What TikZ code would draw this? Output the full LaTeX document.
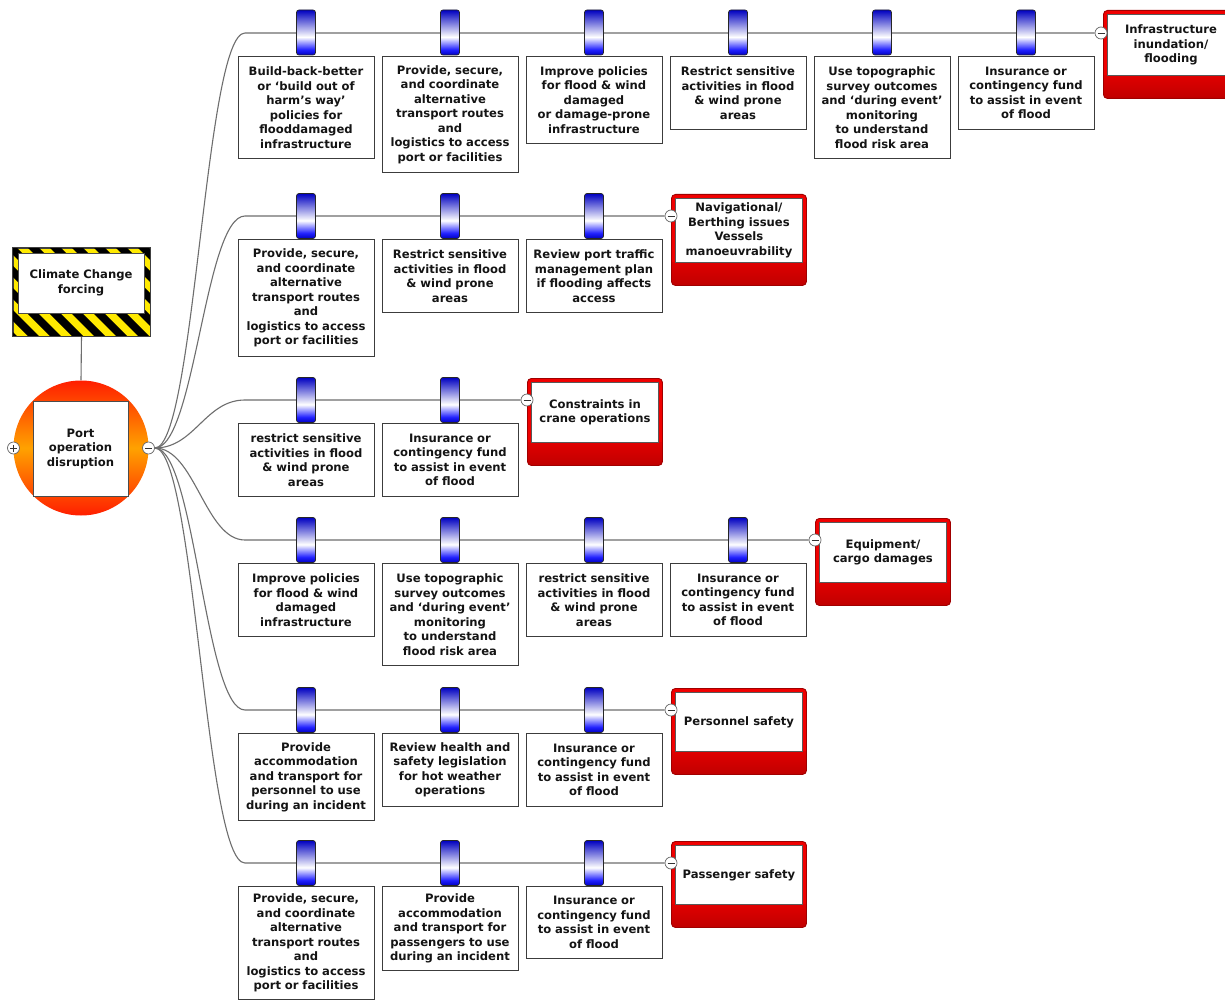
\documentclass[tikz,border=0pt]{standalone}
\usepackage{fontspec}
\setmainfont{DejaVu Sans}
\usetikzlibrary{calc,backgrounds}

\definecolor{linkgray}{HTML}{6E6E6E}
\definecolor{boxgray}{HTML}{3C3C3C}
\definecolor{inkblack}{HTML}{141414}
\definecolor{bluedark}{HTML}{0000C0}
\definecolor{bluemain}{HTML}{2020FF}
\definecolor{consred}{HTML}{F00000}
\definecolor{consdark}{HTML}{C00000}
\definecolor{conslight}{HTML}{FFD8D8}
\definecolor{consborder}{HTML}{A00000}
\definecolor{portred}{HTML}{FF1E00}
\definecolor{portorange}{HTML}{FFA200}
\definecolor{hazardyellow}{HTML}{FFEA00}

% barrier bar: blue at both ends, white band in the lower middle
\pgfdeclareverticalshading{barrierblue}{100bp}{color(0bp)=(bluedark); color(25bp)=(bluedark); color(31bp)=(bluemain); color(45bp)=(white); color(75bp)=(bluedark); color(100bp)=(bluedark)}
% lower strip of the consequence boxes
\pgfdeclareverticalshading{consbottom}{100bp}{color(0bp)=(consdark); color(25bp)=(consdark); color(45bp)=(consred); color(62bp)=(consred); color(75bp)=(conslight); color(100bp)=(conslight)}

\newcommand\boxfont{\fontsize{11.6pt}{14.5pt}\selectfont\bfseries}

\tikzset{
  link/.style={draw=linkgray, line width=1.1pt},
  mbox/.style={draw=boxgray, line width=0.9pt, fill=white, text width=128pt,
    inner xsep=4pt, inner ysep=2pt, align=center, anchor=north,
    font=\boxfont, text=inkblack},
  barrier/.style={draw=black!85, line width=0.7pt, shading=barrierblue,
    minimum width=19pt, minimum height=45pt, rounded corners=2.5pt, inner sep=0pt},
  cons/.style={draw=consborder, line width=0.9pt, fill=consred, rounded corners=4pt,
    minimum width=135pt, inner sep=0pt, anchor=north west,
    path picture={
      \shade[shading=consbottom, sharp corners]
        ([yshift=23pt]path picture bounding box.south west) rectangle
        (path picture bounding box.south east);
      \draw[fill=white, draw=black!65, line width=0.8pt, sharp corners]
        ([shift={(4pt,-4pt)}]path picture bounding box.north west) rectangle
        ([shift={(-4pt,23pt)}]path picture bounding box.south east);
    }},
  constext/.style={font=\boxfont, text=inkblack, align=center, inner sep=0pt},
  minus/.style={circle, draw=black!60, fill=white, line width=0.7pt,
    minimum size=12pt, inner sep=0pt,
    path picture={\draw[black!80, line width=0.9pt]
      ([xshift=-3.5pt]path picture bounding box.center) --
      ([xshift=3.5pt]path picture bounding box.center);}},
  plusnode/.style={minus,
    path picture={\draw[black!80, line width=0.9pt]
      ([xshift=-3.5pt]path picture bounding box.center) --
      ([xshift=3.5pt]path picture bounding box.center)
      ([yshift=-3.5pt]path picture bounding box.center) --
      ([yshift=3.5pt]path picture bounding box.center);}},
}

\begin{document}
\begin{tikzpicture}[x=1pt, y=-1pt]
\useasboundingbox (0,0) rectangle (1225,1000);

% ---------- climate forcing (hazard frame) ----------
\node[draw=black!75, line width=0.9pt, fill=hazardyellow, minimum width=137pt,
      minimum height=88pt, inner sep=0pt] (cc) at (81.5,292) {};
\begin{scope}
  \clip (cc.south west) rectangle (cc.north east);
  \foreach \k in {0,...,12}
    \fill[black] ($(cc.north west)+(\k*22-100,-5)$) -- ++(11,0) -- ++(100,100) -- ++(-11,0) -- cycle;
\end{scope}
\draw[black!75, line width=0.9pt] (cc.south west) rectangle (cc.north east);
\node[draw=black!70, fill=white, line width=0.8pt, minimum width=126pt, minimum height=60pt,
      inner sep=0pt, font=\boxfont, text=inkblack, align=center] (cct) at (81,283)
      {Climate Change\\forcing};

% ---------- top event ----------
\node[circle, minimum size=135pt, inner sep=0pt, top color=portred, bottom color=portred,
      middle color=portorange] (portc) at (81,448) {};
\node[draw=black!70, fill=white, line width=0.8pt, minimum size=95pt, inner sep=0pt,
      font=\boxfont, text=inkblack, align=center] (port) at (80.5,448.5)
      {Port\\operation\\disruption};
\node[plusnode] (pplus) at (13.5,448) {};
\node[minus] (pmin) at (148.5,448) {};

% ---------- row 1 ----------
\foreach \x/\n in {306/1,450/2,594/3,738/4,882/5,1026/6}
  \node[barrier] (k1\n) at (\x,32.5) {};
\node[mbox, minimum height=102pt] (b11) at (306,56) {Build-back-better\\or ‘build out of\\harm’s way’\\policies for\\flooddamaged\\infrastructure};
\node[mbox, minimum height=116pt] (b12) at (450,56) {Provide, secure,\\and coordinate\\alternative\\transport routes\\and\\logistics to access\\port or facilities};
\node[mbox, minimum height=87pt] (b13) at (594,56) {Improve policies\\for flood \& wind\\damaged\\or damage-prone\\infrastructure};
\node[mbox, minimum height=73pt] (b14) at (738,56) {Restrict sensitive\\activities in flood\\\& wind prone\\areas};
\node[mbox, minimum height=102pt] (b15) at (882,56) {Use topographic\\survey outcomes\\and ‘during event’\\monitoring\\to understand\\flood risk area};
\node[mbox, minimum height=73pt] (b16) at (1026,56) {Insurance or\\contingency fund\\to assist in event\\of flood};
\node[cons, minimum height=88pt] (c1) at (1103,10) {};
\node[constext] (c1t) at ($(c1.center)+(0,-9.5)$) {Infrastructure\\inundation/\\flooding};
\node[minus] (m1) at (1101,33) {};

% ---------- row 2 ----------
\foreach \x/\n in {306/1,450/2,594/3}
  \node[barrier] (k2\n) at (\x,216) {};
\node[mbox, minimum height=117pt] (b21) at (306,239) {Provide, secure,\\and coordinate\\alternative\\transport routes\\and\\logistics to access\\port or facilities};
\node[mbox, minimum height=73pt] (b22) at (450,239) {Restrict sensitive\\activities in flood\\\& wind prone\\areas};
\node[mbox, minimum height=73pt] (b23) at (594,239) {Review port traffic\\management plan\\if flooding affects\\access};
\node[cons, minimum height=91pt] (c2) at (671,194) {};
\node[constext] (c2t) at ($(c2.center)+(0,-9.5)$) {Navigational/\\Berthing issues\\Vessels\\manoeuvrability};
\node[minus] (m2) at (671,216) {};

% ---------- row 3 ----------
\foreach \x/\n in {306/1,450/2}
  \node[barrier] (k3\n) at (\x,400) {};
\node[mbox, minimum height=73pt] (b31) at (306,423) {restrict sensitive\\activities in flood\\\& wind prone\\areas};
\node[mbox, minimum height=73pt] (b32) at (450,423) {Insurance or\\contingency fund\\to assist in event\\of flood};
\node[cons, minimum height=87pt] (c3) at (527,378) {};
\node[constext] (c3t) at ($(c3.center)+(0,-9.5)$) {Constraints in\\crane operations};
\node[minus] (m3) at (527,400) {};

% ---------- row 4 ----------
\foreach \x/\n in {306/1,450/2,594/3,738/4}
  \node[barrier] (k4\n) at (\x,540) {};
\node[mbox, minimum height=73pt] (b41) at (306,563) {Improve policies\\for flood \& wind\\damaged\\infrastructure};
\node[mbox, minimum height=102pt] (b42) at (450,563) {Use topographic\\survey outcomes\\and ‘during event’\\monitoring\\to understand\\flood risk area};
\node[mbox, minimum height=73pt] (b43) at (594,563) {restrict sensitive\\activities in flood\\\& wind prone\\areas};
\node[mbox, minimum height=73pt] (b44) at (738,563) {Insurance or\\contingency fund\\to assist in event\\of flood};
\node[cons, minimum height=87pt] (c4) at (815,518) {};
\node[constext] (c4t) at ($(c4.center)+(0,-9.5)$) {Equipment/\\cargo damages};
\node[minus] (m4) at (815,540) {};

% ---------- row 5 ----------
\foreach \x/\n in {306/1,450/2,594/3}
  \node[barrier] (k5\n) at (\x,710) {};
\node[mbox, minimum height=87pt] (b51) at (306,733) {Provide\\accommodation\\and transport for\\personnel to use\\during an incident};
\node[mbox, minimum height=73pt] (b52) at (450,733) {Review health and\\safety legislation\\for hot weather\\operations};
\node[mbox, minimum height=73pt] (b53) at (594,733) {Insurance or\\contingency fund\\to assist in event\\of flood};
\node[cons, minimum height=86pt] (c5) at (671,688) {};
\node[constext] (c5t) at ($(c5.center)+(0,-9.5)$) {Personnel safety};
\node[minus] (m5) at (671,710) {};

% ---------- row 6 ----------
\foreach \x/\n in {306/1,450/2,594/3}
  \node[barrier] (k6\n) at (\x,863) {};
\node[mbox, minimum height=113pt] (b61) at (306,886) {Provide, secure,\\and coordinate\\alternative\\transport routes\\and\\logistics to access\\port or facilities};
\node[mbox, minimum height=84pt] (b62) at (450,886) {Provide\\accommodation\\and transport for\\passengers to use\\during an incident};
\node[mbox, minimum height=72pt] (b63) at (594,886) {Insurance or\\contingency fund\\to assist in event\\of flood};
\node[cons, minimum height=86pt] (c6) at (671,841) {};
\node[constext] (c6t) at ($(c6.center)+(0,-9.5)$) {Passenger safety};
\node[minus] (m6) at (671,863) {};

% ---------- connectors (behind the barriers) ----------
\coordinate (r1) at (245,33);
\coordinate (r2) at (245,216);
\coordinate (r3) at (245,400);
\coordinate (r4) at (245,540);
\coordinate (r5) at (245,710);
\coordinate (r6) at (245,863);
\begin{scope}[on background layer]
  \fill[white] (0,0) rectangle (1225,1000);
  \draw[link] (cc.south) -- (portc.north);
  \foreach \n in {1,...,6}
    \draw[link] (pmin.east) .. controls +(40,0) and +(-40,0) .. (r\n) -- (m\n.west);
\end{scope}
\end{tikzpicture}
\end{document}
